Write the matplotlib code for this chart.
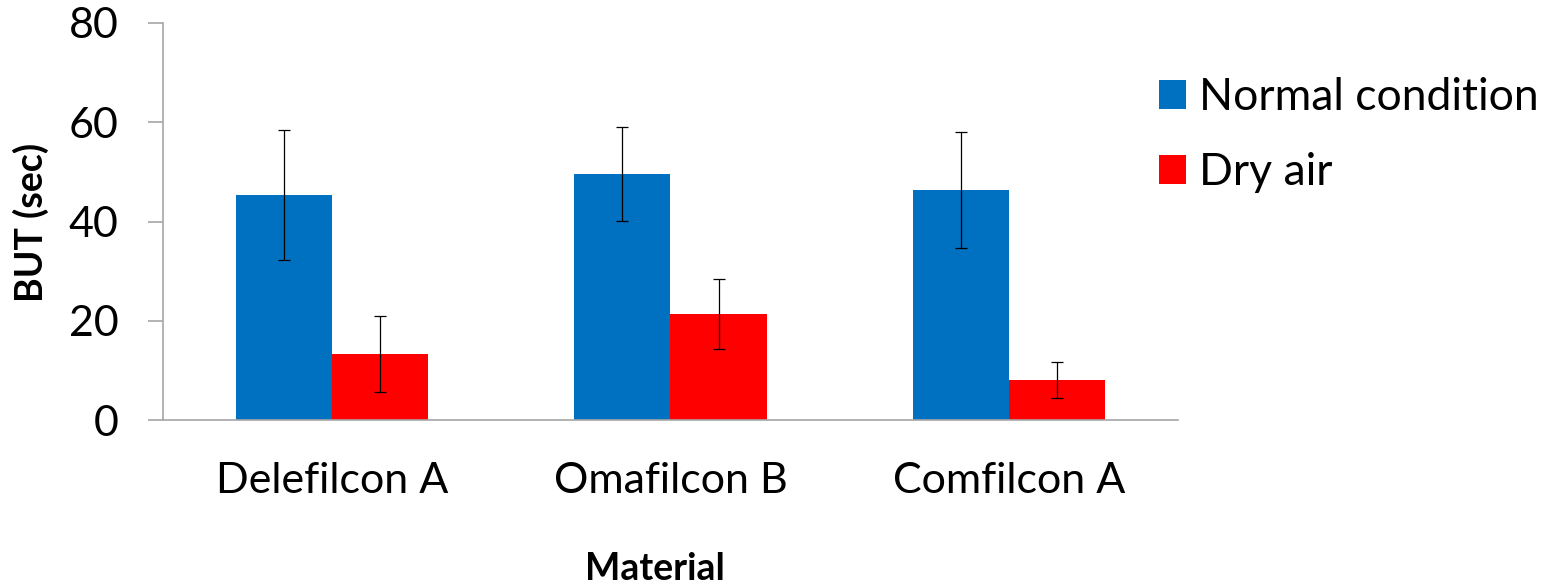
import matplotlib
matplotlib.use("Agg")
import matplotlib.pyplot as plt
import numpy as np

categories = ["Delefilcon A", "Omafilcon B", "Comfilcon A"]
normal_vals = [45.3, 49.6, 46.4]
normal_err = [13.1, 9.4, 11.7]
dry_vals = [13.3, 21.4, 8.1]
dry_err = [7.7, 7.1, 3.6]
series_names = ["Normal condition", "Dry air"]
yticks = [0, 20, 40, 60, 80]

plt.rcParams['font.family'] = ['Lato', 'DejaVu Sans']

fig = plt.figure(figsize=(15.51, 5.86), dpi=100)
ax = fig.add_axes([163/1551, 1-420/586, (1178-163)/1551, (420-23)/586])

x = np.arange(len(categories))
w = 0.284
ekw = dict(ecolor='black', elinewidth=0.9, capsize=4.3, capthick=0.9)
ax.bar(x - w/2, normal_vals, w, yerr=normal_err, color='#0070C0', label=series_names[0], error_kw=ekw, zorder=2)
ax.bar(x + w/2, dry_vals, w, yerr=dry_err, color='#FF0000', label=series_names[1], error_kw=ekw, zorder=2)

ax.set_xlim(-0.5, len(categories) - 0.5)
ax.set_ylim(0, 80)
ax.set_yticks(yticks)
ax.set_yticklabels([str(t) for t in yticks], fontsize=31)
ax.set_xticks(x)
ax.set_xticklabels(categories, fontsize=31)
ax.tick_params(axis='y', length=11, width=1.2, color='#A6A6A6', pad=21)
ax.tick_params(axis='x', length=0, pad=30)

for s in ['top', 'right']:
    ax.spines[s].set_visible(False)
for s in ['left', 'bottom']:
    ax.spines[s].set_color('#A6A6A6')
    ax.spines[s].set_linewidth(1.2)

fig.text(31/1551, 1-222/586, "BUT (sec)", rotation=90, fontsize=27, fontweight='bold',
         ha='center', va='center')
fig.text(655/1551, 1-580/586, "Material", fontsize=27, fontweight='bold',
         ha='center', va='baseline')

leg = fig.legend(loc='upper left', bbox_to_anchor=(1159/1551, 1-77/586), frameon=False,
                 fontsize=32, handlelength=0.61, handleheight=0.61, handletextpad=0.3,
                 labelspacing=0.77, borderpad=0, borderaxespad=0)

fig.savefig("out.png", dpi=100)
